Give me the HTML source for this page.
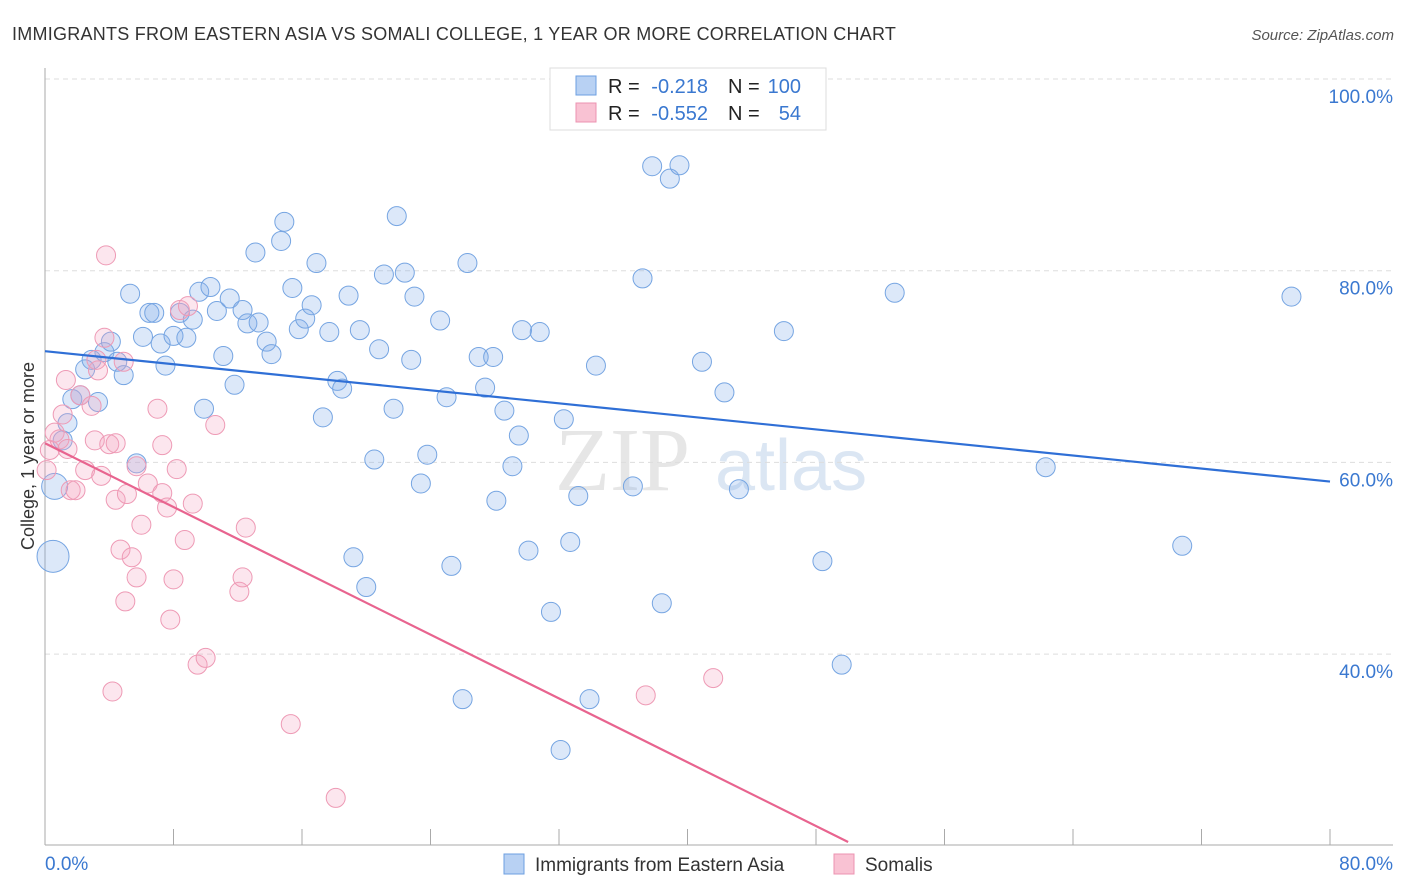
<!DOCTYPE html>
<html><head><meta charset="utf-8">
<style>
body{margin:0;background:#fff;font-family:"Liberation Sans",sans-serif;}
svg{display:block}
</style></head><body>
<svg id="chart" width="1406" height="892" xmlns="http://www.w3.org/2000/svg">
<text x="12" y="40" font-size="18" letter-spacing="0.25" fill="#333">IMMIGRANTS FROM EASTERN ASIA VS SOMALI COLLEGE, 1 YEAR OR MORE CORRELATION CHART</text>
<text x="1394" y="40" font-size="15" fill="#555" font-style="italic" text-anchor="end">Source: ZipAtlas.com</text>
<text x="34" y="456" font-size="18" fill="#333" text-anchor="middle" transform="rotate(-90 34 456)">College, 1 year or more</text>
<g><text x="555" y="490" font-size="90" fill="#e6e6e6" font-family="Liberation Serif,serif">ZIP</text><text x="715" y="490" font-size="72" fill="#dbe6f3">atlas</text></g>
<g id="grid"></g>
<g id="axes"></g>
<g id="pts"></g>
<g id="lines"></g>
<g>
<rect x="550" y="68" width="276" height="62" fill="#fff" stroke="#ddd"/>
<rect x="576" y="76" width="20" height="19" fill="#b8d1f3" stroke="#6d9fe0"/>
<rect x="576" y="103" width="20" height="19" fill="#f9c2d3" stroke="#ec93b0"/>
<text x="608" y="93" font-size="20" fill="#222">R =</text>
<text x="708" y="93" font-size="20" fill="#3a78d0" text-anchor="end">-0.218</text>
<text x="728" y="93" font-size="20" fill="#222">N =</text>
<text x="801" y="93" font-size="20" fill="#3a78d0" text-anchor="end">100</text>
<text x="608" y="120" font-size="20" fill="#222">R =</text>
<text x="708" y="120" font-size="20" fill="#3a78d0" text-anchor="end">-0.552</text>
<text x="728" y="120" font-size="20" fill="#222">N =</text>
<text x="801" y="120" font-size="20" fill="#3a78d0" text-anchor="end">54</text>
</g>
<g>
<rect x="504" y="854" width="20" height="20" fill="#b8d1f3" stroke="#6d9fe0"/>
<text x="535" y="871" font-size="19" fill="#333">Immigrants from Eastern Asia</text>
<rect x="834" y="854" width="20" height="20" fill="#f9c2d3" stroke="#ec93b0"/>
<text x="865" y="871" font-size="19" fill="#333">Somalis</text>
</g>
</svg>
<script>
const yTicks=[100,80,60,40];
const xTickLabels=["0.0%","80.0%"];
const blueX=[0.5,0.6,1.1,1.4,1.7,2.2,2.5,2.9,3.3,3.7,4.1,4.5,4.9,5.3,5.7,6.1,6.5,6.8,7.2,7.5,8.0,8.4,8.8,9.2,9.6,9.9,10.3,10.7,11.1,11.5,11.8,12.3,12.6,13.1,13.3,13.8,14.1,14.7,14.9,15.4,15.8,16.2,16.6,16.9,17.3,17.7,18.2,18.5,18.9,19.2,19.6,20.0,20.5,20.8,21.1,21.7,21.9,22.4,22.8,23.0,23.4,23.8,24.6,25.0,25.3,26.0,26.3,27.0,27.4,27.9,28.1,28.6,29.1,29.5,29.7,30.1,30.8,31.5,32.1,32.3,32.7,33.2,33.9,34.3,36.6,37.2,37.8,38.4,38.9,39.5,40.9,42.3,43.2,46.0,48.4,49.6,52.9,62.3,70.8,77.6];
const blueY=[50.2,57.5,62.3,64.1,66.6,67.0,69.7,70.7,66.3,71.5,72.6,70.5,69.1,77.6,59.9,73.1,75.6,75.6,72.4,70.1,73.2,75.6,73.0,74.9,77.8,65.6,78.3,75.8,71.1,77.1,68.1,75.9,74.5,81.9,74.6,72.6,71.3,83.1,85.1,78.2,73.9,75.0,76.4,80.8,64.7,73.6,68.5,67.7,77.4,50.1,73.8,47.0,60.3,71.8,79.6,65.6,85.7,79.8,70.7,77.3,57.8,60.8,74.8,66.8,49.2,35.3,80.8,71.0,67.8,71.0,56.0,65.4,59.6,62.8,73.8,50.8,73.6,44.4,30.0,64.5,51.7,56.5,35.3,70.1,57.5,79.2,90.9,45.3,89.6,91.0,70.5,67.3,57.2,73.7,49.7,38.9,77.7,59.5,51.3,77.3];
const pinkX=[0.1,0.3,0.6,0.9,1.1,1.4,1.6,1.9,2.2,2.5,2.9,3.1,3.3,3.5,3.7,3.8,4.0,4.4,4.7,4.9,5.1,5.4,5.7,5.7,6.0,6.4,7.0,7.3,7.3,7.6,7.8,8.0,8.2,8.4,8.7,8.9,9.2,9.5,10.0,10.6,12.1,12.3,12.5,15.3,18.1,37.4,41.6,4.2,5.0,1.3,4.4,3.2];
const pinkY=[59.2,61.3,63.1,62.4,65.0,61.4,57.1,57.1,67.0,59.2,65.9,62.3,69.6,58.6,73.0,81.6,61.9,56.1,50.9,70.5,56.7,50.1,48.0,59.6,53.5,57.8,65.6,56.8,61.8,55.3,43.6,47.8,59.3,75.9,51.9,76.3,55.7,38.9,39.6,63.9,46.5,48.0,53.2,32.7,25.0,35.7,37.5,36.1,45.5,68.6,62.0,70.7];
const blueTrend=[0,71.6,80,58.0];
const pinkTrend=[0,62.0,50.0,20.4];
const NS="http://www.w3.org/2000/svg";
function sx(v){return 45+v*16.0625;}
function sy(v){return 79+(100-v)*9.585;}
function mk(tag,attrs,parent){const e=document.createElementNS(NS,tag);for(const k in attrs)e.setAttribute(k,attrs[k]);parent.appendChild(e);return e;}
const grid=document.getElementById('grid'),axes=document.getElementById('axes'),pts=document.getElementById('pts'),lines=document.getElementById('lines');
yTicks.forEach(t=>{
 const l=mk('line',{x1:45,x2:1393,y1:sy(t),y2:sy(t),stroke:'#ddd','stroke-dasharray':'5,4'},grid);
 
 
 const tx=mk('text',{x:1393,y:sy(t)+24,'font-size':19,fill:'#3a78d0','text-anchor':'end'},grid);
 tx.textContent=t.toFixed(1)+'%';
 
 
});
const ya=mk('line',{x1:45,x2:45,y1:68,y2:845,stroke:'#aaa'},axes);


const xa=mk('line',{x1:45,x2:1393,y1:845,y2:845,stroke:'#aaa'},axes);


for(let i=0;i<=10;i++){
 const tk=mk('line',{x1:sx(i*8),x2:sx(i*8),y1:829,y2:845,stroke:'#aaa'},axes);
 
 
}
const xl0=mk('text',{x:45,y:870,'font-size':19,fill:'#3a78d0'},axes);
xl0.textContent=xTickLabels[0];


const xl1=mk('text',{x:1393,y:870,'font-size':19,fill:'#3a78d0','text-anchor':'end'},axes);
xl1.textContent=xTickLabels[1];


function dots(xs,ys,fill,stroke,name){
 xs.forEach((x,i)=>{
  let r=9.5; if(name==='blue-point'&&i===0)r=16; if(name==='blue-point'&&i===1)r=13;
  const c=mk('circle',{cx:sx(x),cy:sy(ys[i]),r:r,fill:fill,stroke:stroke,'stroke-width':1},pts);
  
  
 });
}
dots(blueX,blueY,'rgba(130,172,232,0.28)','#76a5e2','blue-point');
dots(pinkX,pinkY,'rgba(245,165,195,0.28)','#ee9ab5','pink-point');
const bl=mk('line',{x1:sx(blueTrend[0]),y1:sy(blueTrend[1]),x2:sx(blueTrend[2]),y2:sy(blueTrend[3]),stroke:'#2f6fd6','stroke-width':2.2},lines);


const pl=mk('line',{x1:sx(pinkTrend[0]),y1:sy(pinkTrend[1]),x2:sx(pinkTrend[2]),y2:sy(pinkTrend[3]),stroke:'#e8648f','stroke-width':2.2},lines);


</script>
</body></html>
